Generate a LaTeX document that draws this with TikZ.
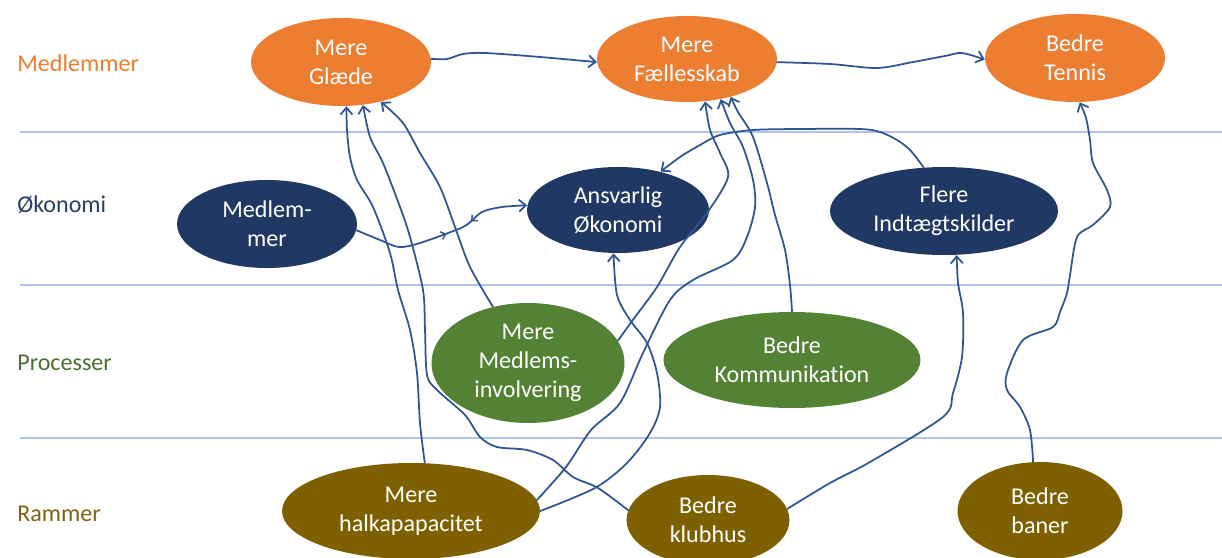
\documentclass[tikz,border=0pt]{standalone}
\usepackage{fontspec}
\setmainfont{Carlito}[Ligatures={NoCommon}]
\usetikzlibrary{shapes.geometric,arrows.meta,decorations.markings}
\definecolor{cOrange}{HTML}{ED7D31}
\definecolor{cNavy}{HTML}{203864}
\definecolor{cGreen}{HTML}{548235}
\definecolor{cBrown}{HTML}{7F6000}
\definecolor{cLine}{HTML}{2F5597}
\definecolor{cRule}{HTML}{AFC4E8}
\definecolor{cLabNavy}{HTML}{2B3C66}
\definecolor{cLabGreen}{HTML}{4C7030}
\definecolor{cLabBrown}{HTML}{806210}
\begin{document}
\begin{tikzpicture}[x=0.02cm,y=-0.02cm,
  ell/.style={ellipse, inner sep=0pt, text=white, align=center, font=\fontsize{13.7}{16.5}\selectfont},
  conn/.style={draw=cLine, line width=1pt, -{Straight Barb[length=1.4mm,width=2.4mm]}, line join=round, line cap=round},
  midbarbs/.style={postaction={decorate}, decoration={markings,
      mark=at position 0.52 with {\arrow[cLine, line width=0.8pt]{Straight Barb[length=0.9mm,width=1.6mm]}},
      mark=at position 0.67 with {\arrowreversed[cLine, line width=0.8pt]{Straight Barb[length=0.9mm,width=1.6mm]}}}},
  rowlab/.style={anchor=west, inner sep=0pt, font=\fontsize{13.7}{16.5}\selectfont},
  rowrule/.style={draw=cRule, line width=0.7pt}]
\useasboundingbox (0,0) rectangle (1222,557);
\fill[white] (0,0) rectangle (1222,557);

% row rules
\draw[rowrule] (20,132) -- (1222,132);
\draw[rowrule] (20,285) -- (1222,285);
\draw[rowrule] (20,438) -- (1222,438);

% row labels
\node[rowlab, text=cOrange] (lmed) at (17,63) {Medlemmer};
\node[rowlab, text=cLabNavy] (lok) at (17,205) {Økonomi};
\node[rowlab, text=cLabGreen] (lproc) at (17,363) {Processer};
\node[rowlab, text=cLabBrown] (lram) at (17,514) {Rammer};

% nodes
\node[ell, fill=cOrange, minimum width=3.6cm, minimum height=1.76cm] (glaede) at (341,62) {Mere\\Glæde};
\node[ell, fill=cOrange, minimum width=3.6cm, minimum height=1.72cm] (faell) at (687,59) {Mere\\Fællesskab};
\node[ell, fill=cOrange, minimum width=3.6cm, minimum height=1.76cm] (tennis) at (1075,58) {Bedre\\Tennis};

\node[ell, fill=cNavy, minimum width=3.6cm, minimum height=1.76cm] (medl) at (267,224) {Medlem-\\mer};
\node[ell, fill=cNavy, minimum width=3.64cm, minimum height=1.72cm] (ansv) at (618,210) {Ansvarlig\\Økonomi};
\node[ell, fill=cNavy, minimum width=4.56cm, minimum height=1.76cm] (flere) at (944,211) {Flere\\Indtægtskilder};

\node[ell, fill=cGreen, minimum width=3.86cm, minimum height=2.4cm, inner sep=-2pt] (medinv) at (528,363) {Mere\\Medlems-\\involvering};
\node[ell, fill=cGreen, minimum width=5.14cm, minimum height=1.92cm] (komm) at (792,360) {Bedre\\Kommunikation};

\node[ell, fill=cBrown, minimum width=5.16cm, minimum height=1.92cm] (halk) at (411,511) {Mere\\halkapapacitet};
\node[ell, fill=cBrown, minimum width=3.26cm, minimum height=1.8cm] (klub) at (708,520) {Bedre\\klubhus};
\node[ell, fill=cBrown, minimum width=3.3cm, minimum height=1.96cm] (baner) at (1040,511) {Bedre\\baner};

% connectors
\draw[conn] plot[smooth, tension=0.5] coordinates {(glaede.2) (447,59) (463,54) (485,53) (540,57) (faell.182)};
\draw[conn] plot[smooth, tension=0.5] coordinates {(faell.358) (830,64) (877,68) (913,62) (945,56) (962,53) (tennis.181)};

\draw[conn] plot[smooth, tension=0.5] coordinates {(halk.74) (420,423) (417,373) (410,330) (398,290) (390,253) (373,207) (357,180) (350,157) (347,130) (glaede.277)};
\draw[conn] plot[smooth, tension=0.5] coordinates {(klub.173) (598,488) (573,477) (553,460) (527,450) (497,447) (480,437) (465,415) (437,390) (427,375) (425,330) (423,290) (410,237) (400,207) (383,163) (370,137) (glaede.297)};
\draw[conn] plot[smooth, tension=0.5] coordinates {(medinv.122) (470,267) (455,227) (440,187) (420,153) (403,123) (glaede.315)};

\draw[conn, midbarbs] plot[smooth, tension=0.5] coordinates {(medl.356) (380,240) (399,247) (420,243) (456,230) (468,224) (482,212) (502,207) (ansv.177)};
\draw[conn] plot[smooth, tension=0.5] coordinates {(flere.115) (910,150) (897,140) (880,132) (860,129) (800,129) (753,130) (720,135) (700,145) (680,157) (ansv.42)};
\draw[conn] plot[smooth, tension=0.5] coordinates {(halk.0) (595,488) (627,463) (650,433) (660,407) (657,373) (647,343) (630,320) (617,295) (ansv.264)};

\draw[conn] plot[smooth, tension=0.5] coordinates {(medinv.14) (635,317) (657,287) (680,247) (707,213) (728,177) (720,153) (710,130) (faell.293)};
\draw[conn] plot[smooth, tension=0.5] coordinates {(halk.5) (566,467) (591,430) (620,403) (643,353) (670,300) (693,280) (733,260) (747,237) (755,207) (753,180) (743,147) (730,123) (faell.310)};
\draw[conn] plot[smooth, tension=0.5] coordinates {(komm.90) (790,285) (785,250) (775,215) (767,183) (753,137) (738,112) (faell.319)};

\draw[conn] plot[smooth, tension=0.5] coordinates {(klub.8) (830,483) (870,462) (943,417) (953,393) (962,357) (963,313) (958,283) (flere.286)};
\draw[conn] plot[smooth, tension=0.5] coordinates {(baner.98) (1030,430) (1020,407) (1007,390) (1007,373) (1023,340) (1053,327) (1060,312) (1067,293) (1070,275) (1077,237) (1093,225) (1110,207) (1107,190) (1093,163) (1090,140) (1086,118) (tennis.276)};
\end{tikzpicture}
\end{document}
